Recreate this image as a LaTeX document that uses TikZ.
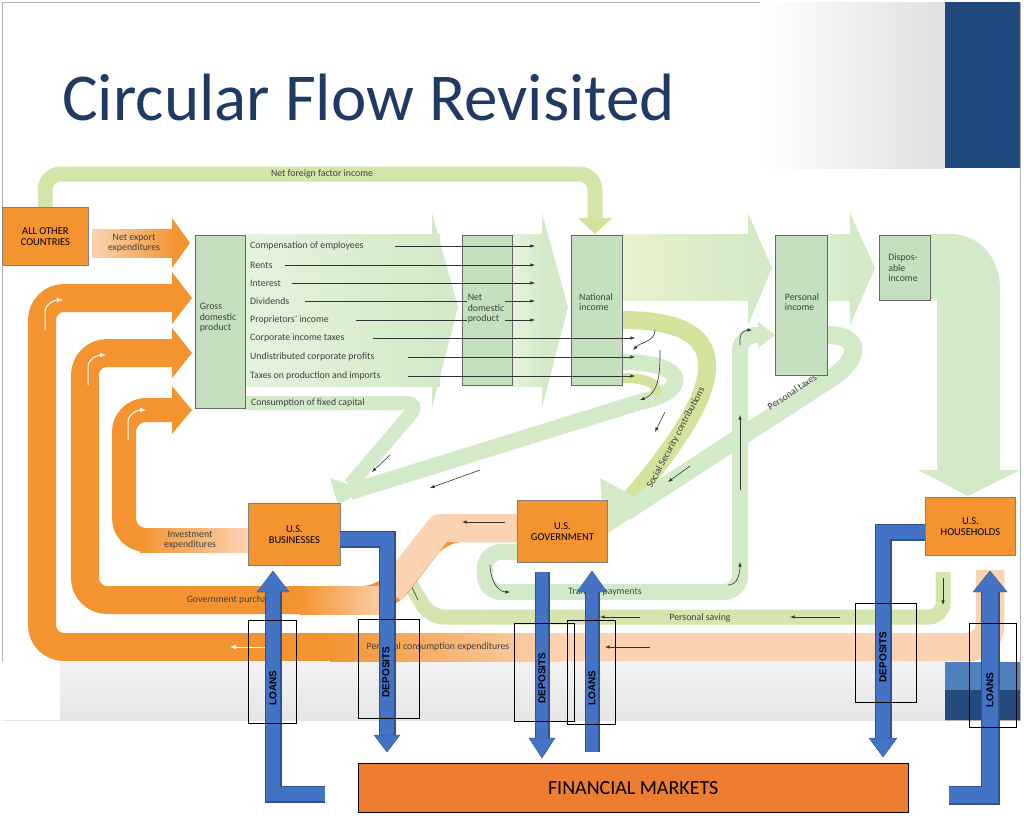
\documentclass[tikz,border=0pt]{standalone}
\usepackage{fontspec}
\setmainfont{Carlito}
\newfontfamily\lab{Liberation Sans}
\begin{document}
\definecolor{org}{HTML}{F39431}
\definecolor{lorg}{HTML}{FBD3B3}
\definecolor{gbox}{HTML}{C4E0BE}
\definecolor{gband}{HTML}{D3EAC8}
\definecolor{ygband}{HTML}{D4E39C}
\definecolor{blu}{HTML}{4472C4}
\definecolor{bluo}{HTML}{2F528F}
\definecolor{title}{HTML}{1F3B64}
\definecolor{fm}{HTML}{ED7D31}
\definecolor{dkb}{HTML}{1F497D}
\definecolor{mb}{HTML}{4F81BD}
\definecolor{db2}{HTML}{254A7D}
\begin{tikzpicture}[x=1pt,y=-1pt,
 gb/.style={draw=gray!80!black,fill=gbox,line width=0.8pt},
 ob/.style={draw=gray,fill=org,line width=0.8pt,font=\fontsize{10.5}{11}\selectfont,align=center},
 txt/.style={font=\fontsize{9.8}{10.5}\selectfont,text=black!75,align=left,inner sep=1pt},
 ln/.style={black!80,line width=0.6pt,-latex},
 band/.style={line width=#1,line join=round,rounded corners=22},
 lb/.style={draw=black,line width=0.6pt},
 lt/.style={font=\lab\bfseries\fontsize{10}{10}\selectfont,rotate=90}]
\useasboundingbox (0,0) rectangle (1024,830);
% slide
\fill[white] (0,0) rectangle (1024,830);
\draw[gray!60] (2,2) rectangle (1020,720);
\shade[left color=white,right color=gray!25] (760,2) rectangle (945,168);
\fill[dkb] (945,2) rectangle (1020,168);
\shade[top color=gray!10,bottom color=gray!20] (2,662) rectangle (945,720);
\fill[white] (2,662) rectangle (60,720);
\fill[mb] (945,662) rectangle (1020,690);
\fill[db2] (945,690) rectangle (1020,720);
\node[anchor=west,text=title,inner sep=0] (ttl) at (62,97) {\fontsize{67}{67}\selectfont Circular Flow Revisited};
% net foreign factor income
\draw[ygband!70!gband,line width=15pt,rounded corners=16] (45,207) -- (45,174) -- (595,174) -- (595,222);
\fill[ygband] (578,218) -- (612,218) -- (595,234) -- cycle;
\node[txt] (nffi) at (322,174) {Net foreign factor income};
% big green arrows
\shade[left color=gband!60,right color=gband] (245,234) rectangle (440,386);
\fill[gband] (432,213) -- (458,307) -- (432,408) -- cycle;
\shade[left color=gband!60,right color=gband] (512,234) rectangle (545,386);
\fill[gband] (542,213) -- (568,307) -- (542,408) -- cycle;
\shade[left color=ygband!50,right color=gband] (622,234) rectangle (750,300);
\fill[gband] (748,213) -- (772,268) -- (748,325) -- cycle;
\shade[left color=gband!80,right color=gband] (827,234) rectangle (852,300);
\fill[gband] (850,213) -- (875,268) -- (850,325) -- cycle;
\fill[gband] (930,234) -- (950,234) .. controls (978,234) and (1000,256) .. (1000,290) -- (1000,470) -- (1020,470) -- (968,496) -- (918,470) -- (937,470) -- (937,300) -- (930,300) -- cycle;
% consumption of fixed capital
\draw[gband,line width=14pt,rounded corners=14] (245,403) -- (420,403) -- (350,485);
\fill[gband] (330,478) -- (365,490) -- (338,505) -- cycle;
\node[txt,anchor=west] (cfc) at (250,403) {Consumption of fixed capital};
% flows from national income
\draw[ygband,line width=18pt] (622,320) .. controls (745,320) and (725,390) .. (625,505);
\draw[gband,line width=16pt] (622,362) .. controls (690,362) and (690,392) .. (640,402) -- (350,492);
\draw[ygband,line width=10pt] (622,378) .. controls (650,378) and (660,385) .. (655,395);
\draw[gband,line width=18pt] (827,335) .. controls (865,335) and (860,362) .. (825,382) -- (625,512);
\fill[gband] (600,478) -- (650,505) -- (605,535) -- cycle;
\node[txt,rotate=62] (ssc) at (676,438) {Social Security contributions};
\node[txt,rotate=34] (pt) at (792,392) {Personal taxes};
% transfer payments
\draw[gband,line width=16pt,rounded corners=16] (520,552) -- (485,552) -- (485,592) -- (740,592) -- (740,335) -- (760,335);
\fill[gband] (758,322) -- (775,335) -- (758,348) -- cycle;
\node[txt] (tp) at (605,592) {Transfer payments};
\draw[ln] (740,490) -- (740,415);
\draw[ln] (740,345) -- (740,338) to[out=90,in=180] (752,330);
\draw[ln] (728,585) to[out=0,in=-90] (740,562);
\draw[ln] (490,565) to[out=-90,in=180] (510,592);
% personal saving
\draw[ygband!60!gband,line width=15pt,rounded corners=14] (943,572) -- (943,617) -- (430,617) -- (405,575);
\node[txt] (ps) at (700,618) {Personal saving};
\draw[ln] (840,617) -- (790,617);
\draw[ln] (640,617) -- (600,617);
\draw[ln] (943,578) -- (943,605);
\draw[black!80,line width=0.6pt] (410,583) -- (418,600);
% orange: personal consumption
\draw[org,band=28pt] (990,570) -- (990,647) -- (42,647) -- (42,298) -- (175,298);
\draw[lorg,band=28pt] (990,570) -- (990,647) -- (560,647);
\shade[left color=org,right color=lorg] (330,633) rectangle (562,661);
\fill[org] (172,272) -- (192,298) -- (172,324) -- cycle;
\node[txt] (pce) at (438,647) {Personal consumption expenditures};
\draw[white,line width=1pt,-latex] (265,647) -- (230,647);
\draw[ln] (650,647) -- (605,647);
% government purchases
\draw[org,band=28pt] (517,528) -- (440,528) -- (385,600) -- (85,600) -- (85,353) -- (175,353);
\shade[left color=org,right color=lorg] (300,586) rectangle (390,614);
\draw[lorg,line width=28pt,line join=round] (517,528) -- (440,528) -- (390,592);
\fill[org] (172,328) -- (192,353) -- (172,378) -- cycle;
\node[txt] (gp) at (233,600) {Government purchases};
\draw[ln] (505,522) -- (462,522);
% investment
\draw[org,band=24pt] (250,540) -- (124,540) -- (124,410) -- (175,410);
\shade[left color=org,right color=lorg] (140,528) rectangle (250,552);
\fill[org] (172,386) -- (192,410) -- (172,434) -- cycle;
\node[txt,align=center] (ie) at (190,540) {Investment\\expenditures};
% net exports
\shade[left color=lorg,right color=org] (92,229) rectangle (176,257);
\fill[org] (172,218) -- (190,243) -- (172,268) -- cycle;
\node[txt,align=center] (nx) at (134,243) {Net export\\expenditures};
% white curved arrows
\foreach \p in {(45,330),(88,385),(128,440)} {\draw[white,line width=1pt,-latex] \p -- ++(0,-18) to[out=90,in=180] ++(18,-12);}
% green boxes
\node[gb,minimum width=50pt,minimum height=173pt,anchor=north west,inner sep=0] (gdp) at (195,235) {};
\node[txt] at (218,318) {Gross\\domestic\\product};
\node[gb,minimum width=50pt,minimum height=150pt,anchor=north west,inner sep=0] (ndp) at (462,235) {};
\node[gb,minimum width=51pt,minimum height=150pt,anchor=north west,inner sep=0] (ni) at (571,235) {};
\node[gb,minimum width=52pt,minimum height=140pt,anchor=north west,inner sep=0] (pi) at (775,235) {};
\node[gb,minimum width=51pt,minimum height=65pt,anchor=north west,inner sep=0] (di) at (879,235) {};
\node[txt] at (596,302) {National\\income};
\node[txt] at (802,302) {Personal\\income};
\node[txt] at (903,268) {Dispos-\\able\\income};
% lines from GDP
\foreach \t/\y/\x in {Compensation of employees/246/395,Rents/265/285,Interest/283/292,Dividends/301/305,Proprietors' income/320/356} {
 \node[txt,anchor=west] at (249,\y) {\t};
 \draw[ln] (\x,\y) -- (535,\y);}
\foreach \t/\y/\x in {Corporate income taxes/338/373,Undistributed corporate profits/357/408,Taxes on production and imports/376/408} {
 \node[txt,anchor=west] at (249,\y) {\t};
 \draw[ln] (\x,\y) -- (635,\y);}
\node[txt,fill=gbox,inner sep=1pt] (ndpt) at (486,309) {Net\\domestic\\product};
% black arrows on flows
\draw[ln] (655,330) to[out=-90,in=45] (633,350);
\draw[ln] (660,350) to[out=-90,in=20] (640,400);
\draw[ln] (390,455) -- (372,472);
\draw[ln] (480,470) -- (430,488);
\draw[ln] (665,412) -- (655,432);
\draw[ln] (690,466) -- (668,482);
% orange boxes
\node[ob,minimum width=86pt,minimum height=58pt,anchor=north west] (aoc) at (2,207) {ALL OTHER\\COUNTRIES};
\node[ob,minimum width=92pt,minimum height=62pt,anchor=north west] (bus) at (248,503) {U.S.\\BUSINESSES};
\node[ob,minimum width=90pt,minimum height=62pt,anchor=north west] (gov) at (517,500) {U.S.\\GOVERNMENT};
\node[ob,minimum width=90pt,minimum height=58pt,anchor=north west] (hh) at (925,497) {U.S.\\HOUSEHOLDS};
% financial markets
\node[draw=black,fill=fm,minimum width=550pt,minimum height=49pt,anchor=north west,font=\fontsize{20}{20}\selectfont] (fmk) at (358,763) {FINANCIAL MARKETS};
% blue arrows
\draw[bluo,line width=17pt] (340,539) -- (387,539) -- (387,736);
\draw[blu,line width=14pt] (340,539) -- (387,539) -- (387,736);
\filldraw[fill=blu,draw=bluo] (374,735) -- (400,735) -- (387,752) -- cycle;
\draw[bluo,line width=17pt] (325,794) -- (273,794) -- (273,590);
\draw[blu,line width=14pt] (325,794) -- (273,794) -- (273,590);
\filldraw[fill=blu,draw=bluo] (257,592) -- (289,592) -- (273,571) -- cycle;
\draw[bluo,line width=15pt] (542,572) -- (542,740);
\draw[blu,line width=12pt] (542,572) -- (542,740);
\filldraw[fill=blu,draw=bluo] (529,738) -- (555,738) -- (542,758) -- cycle;
\draw[bluo,line width=15pt] (592,752) -- (592,590);
\draw[blu,line width=12pt] (592,752) -- (592,590);
\filldraw[fill=blu,draw=bluo] (577,592) -- (607,592) -- (592,571) -- cycle;
\draw[bluo,line width=17pt] (925,532) -- (883,532) -- (883,740);
\draw[blu,line width=14pt] (925,532) -- (883,532) -- (883,740);
\filldraw[fill=blu,draw=bluo] (869,738) -- (897,738) -- (883,757) -- cycle;
\draw[bluo,line width=19pt] (949,795) -- (990,795) -- (990,590);
\draw[blu,line width=16pt] (949,795) -- (990,795) -- (990,590);
\filldraw[fill=blu,draw=bluo] (973,592) -- (1007,592) -- (990,571) -- cycle;
% label boxes
\draw[lb] (248,620) rectangle (296,723);
\draw[lb] (358,619) rectangle (419,718);
\draw[lb] (514,623) rectangle (574,721);
\draw[lb] (567,620) rectangle (615,724);
\draw[lb] (855,603) rectangle (916,702);
\draw[lb] (969,623) rectangle (1016,727);
\node[lt] (l1) at (273,688) {LOANS};
\node[lt] (d1) at (386,672) {DEPOSITS};
\node[lt] (d2) at (542,678) {DEPOSITS};
\node[lt] (l2) at (592,688) {LOANS};
\node[lt] (d3) at (883,657) {DEPOSITS};
\node[lt] (l3) at (990,690) {LOANS};
\end{tikzpicture}
\end{document}
